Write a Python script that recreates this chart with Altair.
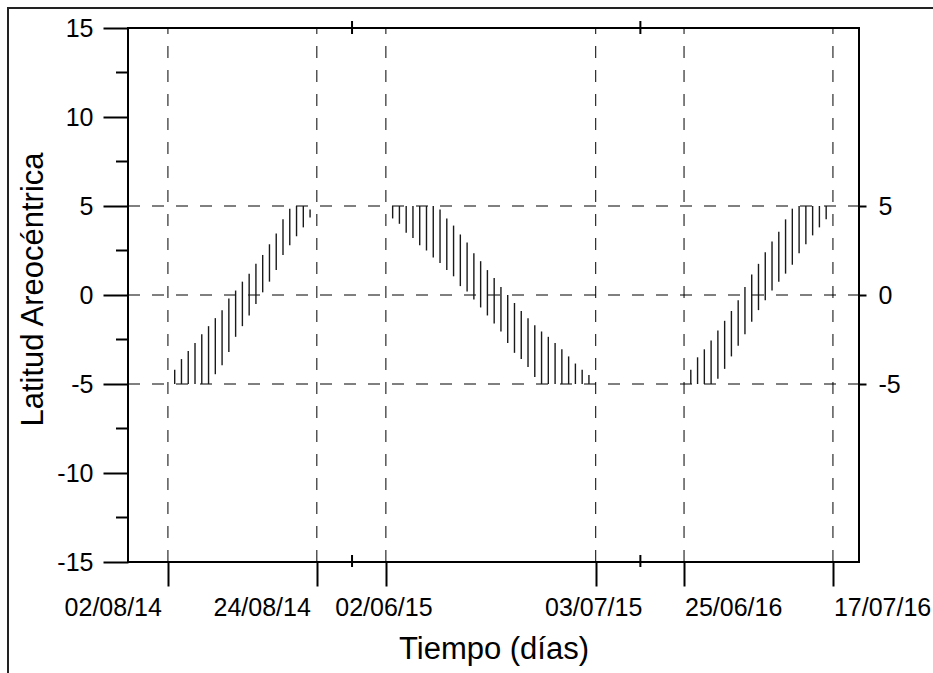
import altair as alt
import pandas as pd

# ---- data -------------------------------------------------------------
# Daily areocentric latitude window (upper / lower limit, degrees)
seg1_start = "2014-08-03"
seg1_top = [-4.2, -3.6, -3.15, -2.7, -2.2, -1.75, -1.3, -0.85, -0.2, 0.25, 0.75,
            1.2, 1.75, 2.25, 2.85, 3.45, 4.25, 4.85, 5.0, 5.0, 4.8]
seg1_bot = [-5.0, -5.0, -5.0, -5.0, -5.0, -5.0, -4.45, -3.95, -3.2, -2.35, -1.75,
            -1.15, -0.5, 0.15, 0.75, 1.4, 2.25, 2.8, 3.3, 3.8, 4.35]

seg2_start = "2015-06-03"
seg2_top = [5.0, 5.0, 5.0, 5.0, 5.0, 5.0, 5.0, 4.8, 4.3, 3.9, 3.4, 2.95, 2.35, 1.9,
            1.4, 0.95, 0.45, 0.0, -0.45, -0.9, -1.3, -1.7, -2.05, -2.35, -2.7,
            -3.05, -3.45, -3.85, -4.2, -4.5]
seg2_bot = [4.3, 4.0, 3.5, 3.2, 2.8, 2.5, 2.1, 1.8, 1.4, 1.05, 0.5, 0.2, -0.25, -0.7,
            -1.15, -1.6, -2.05, -2.7, -3.25, -3.6, -4.05, -4.6, -5.0, -5.0, -5.0,
            -5.0, -5.0, -5.0, -5.0, -5.0]

seg3_start = "2016-06-26"
seg3_top = [-4.2, -3.5, -3.05, -2.55, -2.0, -1.45, -0.9, -0.3, 0.45, 1.15, 1.75,
            2.4, 3.0, 3.55, 4.25, 4.85, 5.0, 5.0, 5.0, 5.0, 5.0]
seg3_bot = [-5.0, -5.0, -5.0, -5.0, -4.7, -4.15, -3.45, -2.85, -2.2, -1.5, -0.85,
            -0.3, 0.25, 0.75, 1.2, 1.7, 2.35, 2.85, 3.35, 3.8, 4.25]

# Labelled dates on the time axis and the segment each belongs to
tick_dates = ["02/08/14", "24/08/14", "02/06/15", "03/07/15", "25/06/16", "17/07/16"]
tick_segment = [0, 0, 1, 1, 2, 2]
tick_align = ["right", "right", "center", "center", "left", "left"]

# Broken time axis: each campaign is anchored at a position (in days)
seg_anchor_date = ["2014-08-02", "2015-06-02", "2016-06-25"]
seg_anchor_pos = [5.9, 38.1, 82.15]
break_pos = [33.1, 75.7]
x_max = 108.0

left_ticks = [-15, -10, -5, 0, 5, 10, 15]
minor_ticks = [-12.5, -7.5, -2.5, 2.5, 7.5, 12.5]
grid_lat = [-5, 0, 5]

# ---- helpers -----------------------------------------------------------
anchors = [pd.Timestamp(d) for d in seg_anchor_date]


def axis_pos(ts, seg):
    return seg_anchor_pos[seg] + (ts - anchors[seg]).days


rows = []
for seg, (start, tops, bots) in enumerate([(seg1_start, seg1_top, seg1_bot),
                                           (seg2_start, seg2_top, seg2_bot),
                                           (seg3_start, seg3_top, seg3_bot)]):
    days = pd.date_range(start, periods=len(tops), freq="D")
    for d, t, b in zip(days, tops, bots):
        rows.append({"u": axis_pos(d, seg), "top": t, "bot": b})
bars = pd.DataFrame(rows)

ticks = pd.DataFrame({
    "label": tick_dates,
    "align": tick_align,
    "u": [float(axis_pos(pd.to_datetime(t, format="%d/%m/%y"), s))
          for t, s in zip(tick_dates, tick_segment)],
})
breaks = pd.DataFrame({"u": break_pos})
hgrid = pd.DataFrame({"lat": grid_lat})
minors = pd.DataFrame({"lat": minor_ticks})

# ---- layout ------------------------------------------------------------
W, H = 731, 534
FONT = "Liberation Sans"
INK = "#000000"
GRID = "#000000"

xs = alt.Scale(domain=[0, x_max], nice=False, zero=False)
ys = alt.Scale(domain=[-15, 15], nice=False, zero=False)

left_axis = alt.Axis(
    values=left_ticks, orient="left", tickSize=25, tickWidth=2, tickColor=INK,
    domain=False, grid=False, labelFontSize=25, labelPadding=10, labelFont=FONT,
    labelColor=INK, labelFlush=False, labelOverlap=False,
    labelExpr="'' + datum.value",
    title="Latitud Areocéntrica", titleFont=FONT, titleFontSize=31,
    titleFontWeight="normal", titleColor=INK, titleAngle=270, titleX=-86,
    titleY=261, titleAlign="center", titleBaseline="alphabetic",
)
right_axis = alt.Axis(
    values=grid_lat, orient="right", tickSize=7, tickWidth=2, tickColor=INK,
    domain=False, grid=False, labelFontSize=25, labelPadding=12, labelFont=FONT,
    labelColor=INK, labelFlush=False, labelOverlap=False,
    labelExpr="'' + datum.value", title=None,
)
bottom_axis = alt.Axis(
    values=list(ticks["u"]), orient="bottom", tickSize=24, tickWidth=2,
    tickColor=INK, domain=False, grid=False, labels=False,
    title="Tiempo (días)", titleFont=FONT, titleFontSize=31,
    titleFontWeight="normal", titleColor=INK, titleX=W / 2, titleY=96,
    titleAlign="center", titleBaseline="alphabetic",
)

dash = [12, 12]

# dashed horizontal reference lines (carry the left axis)
h_lines = alt.Chart(hgrid).mark_rule(color=GRID, strokeWidth=1, strokeDash=dash).encode(
    y=alt.Y("lat:Q", scale=ys, axis=left_axis),
    x=alt.value(0), x2=alt.value(W),
)

# invisible layer carrying the right-hand axis
h_right = alt.Chart(hgrid).mark_rule(strokeOpacity=0).encode(
    y=alt.Y("lat:Q", scale=ys, axis=right_axis),
    x=alt.value(0), x2=alt.value(W),
)

# dashed vertical lines at the labelled dates (carry the bottom axis)
v_lines = alt.Chart(ticks).mark_rule(color=GRID, strokeWidth=1, strokeDash=dash).encode(
    x=alt.X("u:Q", scale=xs, axis=bottom_axis),
    y=alt.value(H), y2=alt.value(0),
)

# daily latitude windows
windows = alt.Chart(bars).mark_rule(color="#1a1a1a", strokeWidth=1.4).encode(
    x=alt.X("u:Q", scale=xs, axis=None),
    y=alt.Y("top:Q", scale=ys, axis=None),
    y2="bot:Q",
)

# minor ticks on the left axis
minor = alt.Chart(minors).mark_rule(color=INK, strokeWidth=2).encode(
    y=alt.Y("lat:Q", scale=ys, axis=None),
    x=alt.value(-12), x2=alt.value(0),
)

# axis break marks, top and bottom
brk_top = alt.Chart(breaks).mark_rule(color=INK, strokeWidth=2).encode(
    x=alt.X("u:Q", scale=xs, axis=None), y=alt.value(-7), y2=alt.value(6),
)
brk_bot = alt.Chart(breaks).mark_rule(color=INK, strokeWidth=2).encode(
    x=alt.X("u:Q", scale=xs, axis=None), y=alt.value(H - 7), y2=alt.value(H + 5),
)

# date labels under the time axis
label_layers = []
for al, dx in [("right", -6), ("center", -2), ("left", 1)]:
    label_layers.append(
        alt.Chart(ticks).transform_filter(alt.datum.align == al).mark_text(
            align=al, baseline="alphabetic", dx=dx, fontSize=25, font=FONT, color=INK,
        ).encode(
            x=alt.X("u:Q", scale=xs, axis=None),
            y=alt.value(H + 54),
            text="label:N",
        )
    )

# outer figure frame
frame_src = pd.DataFrame({"k": [0]})
frame_left = alt.Chart(frame_src).mark_rule(color="#222", strokeWidth=2).encode(
    x=alt.value(-120), y=alt.value(-20), y2=alt.value(H + 200),
)
frame_top = alt.Chart(frame_src).mark_rule(color="#222", strokeWidth=2).encode(
    y=alt.value(-20), x=alt.value(-121), x2=alt.value(W + 200),
)

chart = alt.layer(
    h_lines, h_right, v_lines, windows, minor, brk_top, brk_bot,
    *label_layers, frame_left, frame_top,
).resolve_axis(
    x="independent", y="independent"
).properties(
    width=W, height=H,
    autosize=alt.AutoSizeParams(type="none"),
    padding={"left": 128, "top": 28, "right": 933 - 128 - W, "bottom": 673 - 28 - H},
    background="white",
).configure_view(
    stroke=INK, strokeWidth=2,
)

chart.save("out.html", embed_options={"renderer": "svg", "actions": False})
